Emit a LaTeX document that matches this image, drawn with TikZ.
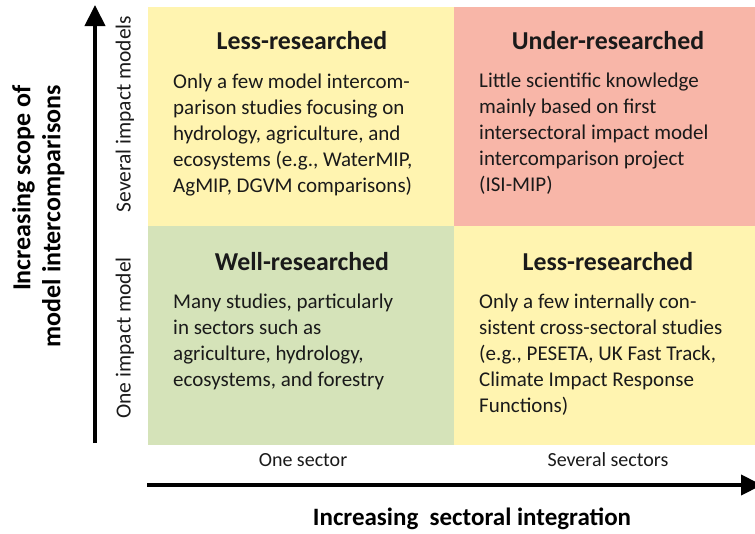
\documentclass[tikz,border=0pt]{standalone}
\usepackage{fontspec}
\setmainfont{Carlito}
\usetikzlibrary{arrows.meta}
\definecolor{qyellow}{HTML}{FFF4B0}
\definecolor{qred}{HTML}{F8B6A8}
\definecolor{qgreen}{HTML}{D5E3B9}
\definecolor{txt}{HTML}{1A1A1A}
\tikzset{
  qtitle/.style={anchor=base, inner sep=0pt, font=\fontsize{25.8}{30}\selectfont\bfseries, text=txt},
  qbody/.style={anchor=base west, inner sep=0pt, text=txt},
  axlabel/.style={anchor=base, inner sep=0pt, font=\fontsize{20}{24}\selectfont, text=txt},
  vlabel/.style={inner sep=0pt, font=\fontsize{21.5}{24}\selectfont, text=txt, rotate=90, anchor=center},
  axtitle/.style={inner sep=0pt, font=\fontsize{25}{30}\selectfont\bfseries, text=black},
  ytitle/.style={inner sep=0pt, font=\fontsize{26}{30}\selectfont\bfseries, text=black},
  axarrow/.style={line width=4pt, -{Triangle[width=20pt,length=21pt]}}
}
\newcommand{\bodytext}[1]{\parbox[t]{290pt}{\raggedright\fontsize{21}{26.2}\selectfont #1}}
\begin{document}
\begin{tikzpicture}[x=1pt,y=-1pt]
\useasboundingbox (0,0) rectangle (755,533);
% quadrants
\fill[qyellow] (148,7) rectangle (454,226);
\fill[qred] (454,7) rectangle (755,226);
\fill[qgreen] (148,226) rectangle (454,445);
\fill[qyellow] (454,226) rectangle (755,445);
% titles
\node[qtitle] (tlt) at (302,49) {Less-researched};
\node[qtitle] (trt) at (608,49) {Under-researched};
\node[qtitle] (blt) at (302,270) {Well-researched};
\node[qtitle] (brt) at (608,270) {Less-researched};
% bodies
\node[qbody] (tlb) at (173,88) {\bodytext{Only a few model intercom-\\parison studies focusing on\\hydrology, agriculture, and\\ecosystems (e.g., WaterMIP,\\AgMIP, DGVM comparisons)}};
\node[qbody] (trb) at (479,87) {\bodytext{Little scientific knowledge\\mainly based on first\\intersectoral impact model\\intercomparison project\\(ISI-MIP)}};
\node[qbody] (blb) at (173,308) {\bodytext{Many studies, particularly\\in sectors such as\\agriculture, hydrology,\\ecosystems, and forestry}};
\node[qbody] (brb) at (479,308) {\bodytext{Only a few internally con-\\sistent cross-sectoral studies\\(e.g., PESETA, UK Fast Track,\\Climate Impact Response\\Functions)}};
% axes
\coordinate (ybot) at (95,443);
\coordinate (ytop) at (95,5);
\coordinate (xl) at (147,485);
\coordinate (xr) at (762,485);
\draw[axarrow] (ybot) -- (ytop);
\draw[axarrow] (xl) -- (xr);
% axis labels
\node[axlabel] (xs1) at (303,466) {One sector};
\node[axlabel] (xs2) at (608,466) {Several sectors};
\node[vlabel] (ys2) at (125,114) {Several impact models};
\node[vlabel] (ys1) at (125,338) {One impact model};
\node[axtitle, anchor=base] (xt) at (472,525) {Increasing\ \ sectoral integration};
\node[ytitle, rotate=90, anchor=north east, align=right] (yt) at (12,85) {Increasing scope of\\model intercomparisons};
\end{tikzpicture}
\end{document}
